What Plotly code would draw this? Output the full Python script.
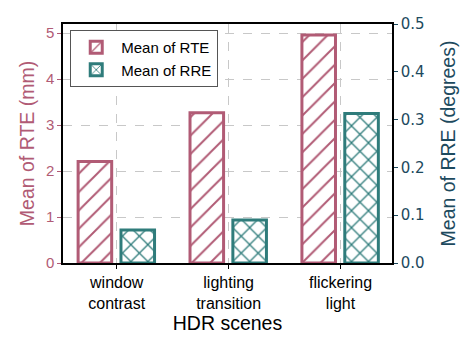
import plotly.graph_objects as go

scenes = ["window<br>contrast", "lighting<br>transition", "flickering<br>light"]
rte_mean = [2.21, 3.27, 4.96]
rre_mean = [0.069, 0.090, 0.313]

PINK = "#b15b75"
TEAL = "#2f7c7b"
NAVY = "#1d4a5e"

x_idx = list(range(len(scenes)))

fig = go.Figure()
fig.add_trace(go.Bar(
    x=x_idx, y=rte_mean, name="Mean of RTE",
    width=0.3, offset=-0.345,
    marker=dict(color="white", line=dict(color=PINK, width=3),
                pattern=dict(shape="/", fgcolor=PINK, bgcolor="white", fgopacity=1,
                             size=13, solidity=0.15)),
))
fig.add_trace(go.Bar(
    x=x_idx, y=rre_mean, name="Mean of RRE", yaxis="y2",
    width=0.3, offset=0.038,
    marker=dict(color="white", line=dict(color=TEAL, width=3),
                pattern=dict(shape="x", fgcolor=TEAL, bgcolor="white", fgopacity=1,
                             size=12, solidity=0.2)),
))

# page body has an 8px margin, so the figure is drawn 8px smaller
fig.update_layout(
    width=464, height=346,
    margin=dict(l=55, r=80, t=16, b=91),
    paper_bgcolor="white", plot_bgcolor="white",
    font=dict(family="Liberation Sans, Arial, sans-serif", color="black"),
    barmode="overlay",
    xaxis=dict(
        range=[-0.48, 2.46], tickvals=x_idx, ticktext=scenes, automargin=False,
        tickfont=dict(size=16), ticks="outside", ticklen=4, tickcolor="black",
        showline=True, linecolor="black", linewidth=1.5, mirror=True,
        showgrid=True, gridcolor="#c8c8c8", griddash="dash", gridwidth=1,
        title=dict(text="HDR scenes", font=dict(size=19.5), standoff=4),
    ),
    yaxis=dict(
        range=[0, 5.2], tickvals=[0, 1, 2, 3, 4, 5], automargin=False,
        tickfont=dict(size=15, color=PINK), ticks="outside", ticklen=4, tickcolor=PINK,
        showline=True, linecolor="black", linewidth=1.5,
        showgrid=True, gridcolor="#c8c8c8", griddash="dash", gridwidth=1,
        zeroline=False,
        title=dict(text="Mean of RTE (mm)", font=dict(size=19.5, color=PINK), standoff=6),
    ),
    yaxis2=dict(
        overlaying="y", side="right", range=[0, 0.5], automargin=False,
        tickvals=[0, 0.1, 0.2, 0.3, 0.4, 0.5], tickformat=".1f",
        tickfont=dict(size=15, color=NAVY, family="DejaVu Sans"),
        ticks="outside", ticklen=4, tickcolor=NAVY,
        showline=True, linecolor="black", linewidth=1.5,
        showgrid=False, zeroline=False,
        title=dict(text="Mean of RRE (degrees)", font=dict(size=19.5, color=NAVY), standoff=18),
    ),
    legend=dict(
        x=0.022, y=0.975, xanchor="left", yanchor="top",
        bgcolor="white", bordercolor="#555", borderwidth=1,
        font=dict(size=15), tracegroupgap=0, itemwidth=40,
    ),
    showlegend=True,
)

fig.write_html("out.html")
